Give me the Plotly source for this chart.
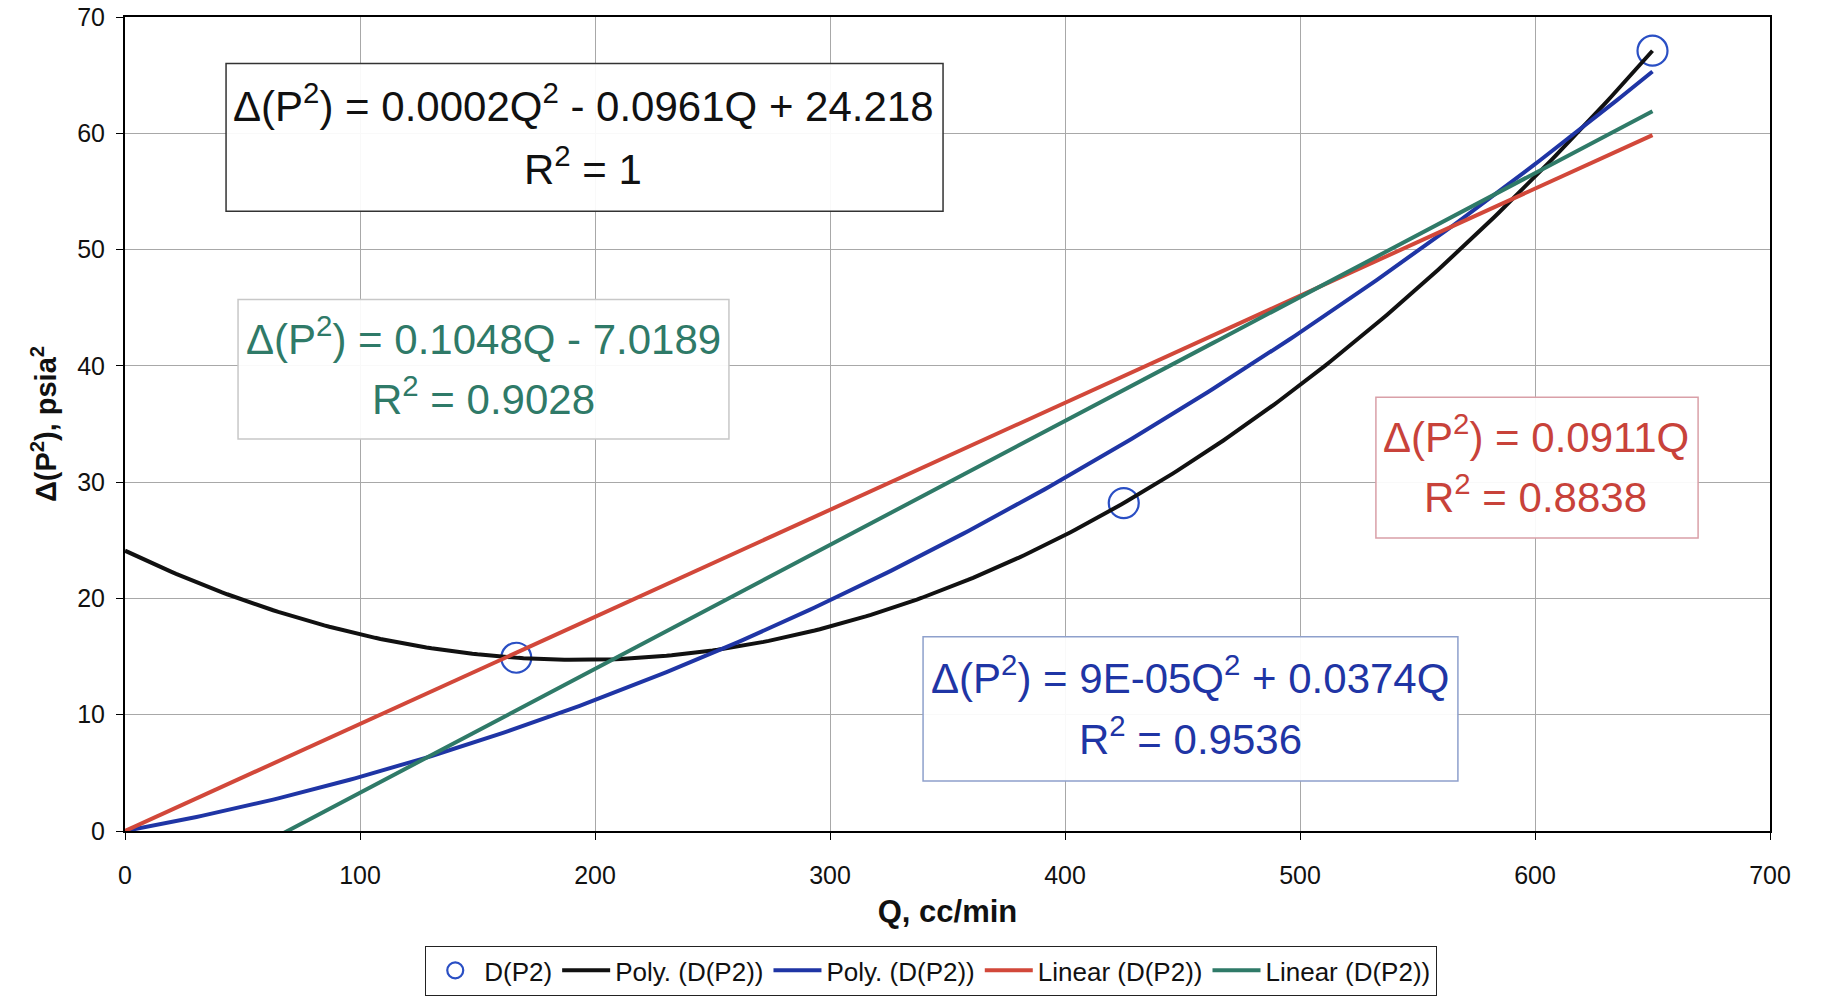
import numpy as np
import plotly.graph_objects as go

# Measured points: flow rate Q (cc/min) and Δ(P²) (psia²)
q_vals = [166.5, 425.0, 650.0]
dp2_vals = [14.9, 28.2, 67.1]

# Trendline equation labels (two lines each)
eq_poly2 = ["Δ(P<sup>2</sup>) = 0.0002Q<sup>2</sup> - 0.0961Q + 24.218", "R<sup>2</sup> = 1"]
eq_lin = ["Δ(P<sup>2</sup>) = 0.1048Q - 7.0189", "R<sup>2</sup> = 0.9028"]
eq_lin0 = ["Δ(P<sup>2</sup>) = 0.0911Q", "R<sup>2</sup> = 0.8838"]
eq_poly0 = ["Δ(P<sup>2</sup>) = 9E-05Q<sup>2</sup> + 0.0374Q", "R<sup>2</sup> = 0.9536"]

x_ticks = [0, 100, 200, 300, 400, 500, 600, 700]
y_ticks = [0, 10, 20, 30, 40, 50, 60, 70]

q = np.array(q_vals)
y = np.array(dp2_vals)

# Least-squares trendlines, as a spreadsheet computes them
c_poly = np.polyfit(q, y, 2)                                  # full quadratic
A0 = np.vstack([q**2, q]).T
c_poly0 = np.linalg.lstsq(A0, y, rcond=None)[0]               # quadratic through origin
c_lin = np.polyfit(q, y, 1)                                   # linear with intercept
s_lin0 = float(np.sum(q * y) / np.sum(q * q))                 # linear through origin

qq = np.linspace(0, q.max(), 300)

BLACK = "#111111"
BLUE = "#1f35a5"
RED = "#d2483a"
TEAL = "#2f7a68"

fig = go.Figure()
fig.add_trace(go.Scatter(x=q_vals, y=dp2_vals, mode="markers", name="D(P2)",
                         marker=dict(symbol="circle-open", size=30, color="#2a4fc4",
                                     line=dict(width=2.2, color="#2a4fc4"))))
fig.add_trace(go.Scatter(x=qq, y=np.polyval(c_poly, qq), mode="lines",
                         name="Poly. (D(P2))", line=dict(color=BLACK, width=4)))
fig.add_trace(go.Scatter(x=qq, y=c_poly0[0] * qq**2 + c_poly0[1] * qq, mode="lines",
                         name="Poly. (D(P2))", line=dict(color=BLUE, width=4)))
fig.add_trace(go.Scatter(x=qq, y=s_lin0 * qq, mode="lines",
                         name="Linear (D(P2))", line=dict(color=RED, width=4)))
fig.add_trace(go.Scatter(x=qq, y=np.polyval(c_lin, qq), mode="lines",
                         name="Linear (D(P2))", line=dict(color=TEAL, width=4)))

FONT = "Liberation Sans, Arial, sans-serif"


def eq_box(lines, x0, x1, y0, y1, xc, ys, color, border):
    # framed white box holding the two label lines
    fig.add_shape(type="rect", xref="x", yref="y", x0=x0, x1=x1, y0=y0, y1=y1,
                  fillcolor="rgba(255,255,255,0.93)",
                  line=dict(color=border, width=1.5), layer="above")
    for txt, yy in zip(lines, ys):
        fig.add_annotation(x=xc, y=yy, xref="x", yref="y", text=txt, showarrow=False,
                           font=dict(family=FONT, size=42, color=color),
                           xanchor="center", yanchor="middle")


eq_box(eq_poly2, 43.0, 348.1, 53.3, 66.0, 195.0, [62.6, 57.2], BLACK, "#333333")
eq_box(eq_lin, 48.1, 257.0, 33.7, 45.7, 152.5, [42.6, 37.4], TEAL, "#c8c8c8")
eq_box(eq_lin0, 532.3, 669.4, 25.2, 37.3, 600.4, [34.1, 29.0], "#c8423a", "#d9a0a8")
eq_box(eq_poly0, 339.6, 567.2, 4.3, 16.7, 453.2, [13.4, 8.2], BLUE, "#8ea0cc")

fig.update_layout(
    width=1821, height=1004,
    margin=dict(l=125, r=51, t=17, b=173, autoexpand=False),
    paper_bgcolor="white", plot_bgcolor="white",
    font=dict(family=FONT, size=24, color="#111111"),
    showlegend=True,
    legend=dict(orientation="h", x=0.49, xanchor="center",
                yref="container", y=0.058, yanchor="top",
                bordercolor="#222222", borderwidth=1.2, bgcolor="white",
                font=dict(size=26, family=FONT), itemwidth=48, tracegroupgap=0),
)
fig.update_xaxes(range=[0, 700], tickvals=x_ticks, ticktext=[str(v) for v in x_ticks],
                 automargin=False,
                 showgrid=True, gridcolor="#a8a8a8", gridwidth=1,
                 showline=True, linecolor="black", linewidth=2, mirror=True,
                 ticks="outside", ticklen=7, tickcolor="black", zeroline=False,
                 tickfont=dict(size=25), ticklabelstandoff=14,
                 title=dict(text="<b>Q, cc/min</b>", font=dict(size=31), standoff=12))
fig.update_yaxes(range=[0, 70], tickvals=y_ticks, ticktext=[str(v) for v in y_ticks],
                 automargin=False,
                 showgrid=True, gridcolor="#a8a8a8", gridwidth=1,
                 showline=True, linecolor="black", linewidth=2, mirror=True,
                 ticks="outside", ticklen=7, tickcolor="black", zeroline=False,
                 tickfont=dict(size=25), ticklabelstandoff=6,
                 title=dict(text="<b>Δ(P<sup>2</sup>), psia<sup>2</sup></b>",
                            font=dict(size=29), standoff=12))

fig.write_html("out.html")
